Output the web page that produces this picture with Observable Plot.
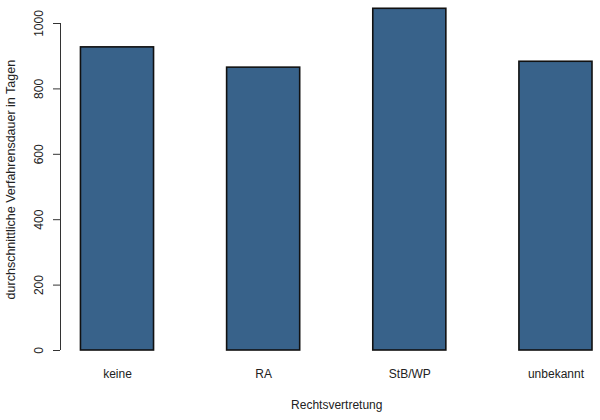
<!DOCTYPE html>
<html>
<head>
<meta charset="utf-8">
<script src="https://cdn.jsdelivr.net/npm/d3@7"></script>
<script src="https://cdn.jsdelivr.net/npm/@observablehq/plot@0.6"></script>
<style>
  html, body { margin: 0; padding: 0; background: #fff; }
  svg { font-family: "Liberation Sans", Arial, sans-serif; }
</style>
</head>
<body>
<div id="chart"></div>
<script>
const categories = ["keine", "RA", "StB/WP", "unbekannt"];
const values = [927, 865, 1045, 883];
const yTicks = [0, 200, 400, 600, 800, 1000];
const xTitle = "Rechtsvertretung";
const yTitle = "durchschnittliche Verfahrensdauer in Tagen";

// R barplot layout: width 1, space 1 -> bar i spans [2i+1, 2i+2]
const bars = categories.map((c, i) => ({cat: c, value: values[i], x1: 2 * i + 1, x2: 2 * i + 2}));
const xMin = 1 - 0.04 * 7;   // R's 4% axis extension
const xMax = 8;
const yMid = d3.max(values) / 2;   // R centers ylab on the plot region

const plot = Plot.plot({
  width: 600,
  height: 420,
  marginLeft: 60,
  marginRight: 8,
  marginTop: 23,
  marginBottom: 70,
  style: {fontFamily: "Liberation Sans, Arial, sans-serif", fontSize: "12px", color: "#222"},
  x: {domain: [xMin, xMax], axis: null},
  y: {domain: [0, 1000], axis: null},
  marks: [
    Plot.rectY(bars, {x1: "x1", x2: "x2", y1: 0, y2: "value", fill: "#38628a", stroke: "#111", strokeWidth: 1.6}),
    Plot.ruleX([xMin], {y1: 0, y2: 1000, stroke: "#333", strokeWidth: 1}),
    Plot.axisY({ticks: yTicks, tickSize: 7, tickFormat: () => "", label: null, stroke: "#333"}),
    Plot.text(yTicks, {x: xMin, y: d => d, text: d => String(d), rotate: -90, dx: -21, textAnchor: "middle", fontSize: 12, fill: "#222"}),
    Plot.text(bars, {x: d => (d.x1 + d.x2) / 2, text: "cat", frameAnchor: "bottom", dy: 27, fontSize: 12, fill: "#222"}),
    Plot.text([xTitle], {x: (xMin + 8.28) / 2, text: d => d, frameAnchor: "bottom", dy: 58, fontSize: 12, fill: "#222"}),
    Plot.text([yTitle], {x: xMin, y: yMid, text: d => d, rotate: -90, dx: -50, textAnchor: "middle", fontSize: 12.5, fill: "#222"})
  ]
});
document.getElementById("chart").appendChild(plot);
</script>
</body>
</html>
